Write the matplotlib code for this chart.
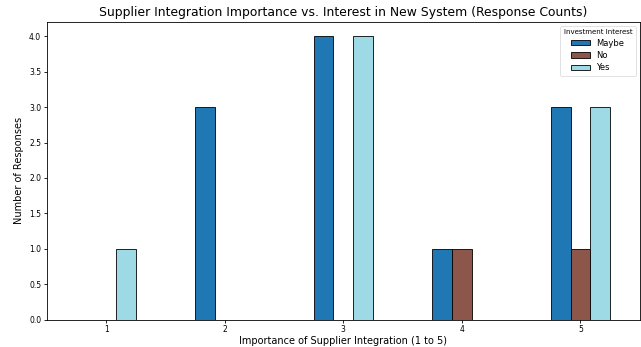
import numpy as np
import matplotlib.pyplot as plt

# response counts per importance score, split by investment interest
importance = ['1', '2', '3', '4', '5']
maybe = [0, 3, 4, 1, 3]
no = [0, 0, 0, 1, 1]
yes = [1, 0, 4, 0, 3]

series = [('Maybe', maybe, '#1f77b4'), ('No', no, '#8c564b'), ('Yes', yes, '#9edae5')]

fig = plt.figure(figsize=(6.41, 3.47), dpi=100)
ax = fig.add_axes([0.073, 0.078, 0.925, 0.859])

x = np.arange(len(importance))
width = 0.5 / len(series)
for i, (name, vals, color) in enumerate(series):
    ax.bar(x + (i - 1) * width, vals, width, color=color, edgecolor='black',
           linewidth=0.6, label=name)

ax.set_xlim(-0.5, len(importance) - 0.5)
ax.set_ylim(0, 4.2)
ax.set_xticks(x)
ax.set_xticklabels(importance, rotation=0)
ax.set_yticks(np.arange(0, 4.01, 0.5))
ax.tick_params(labelsize=5.5, length=2.5, width=0.6, pad=1.5)
for s in ax.spines.values():
    s.set_linewidth(0.6)

ax.set_title('Supplier Integration Importance vs. Interest in New System (Response Counts)',
             fontsize=8.9, pad=4)
ax.set_xlabel('Importance of Supplier Integration (1 to 5)', fontsize=7, labelpad=1)
ax.set_ylabel('Number of Responses', fontsize=7, labelpad=4)

leg = ax.legend(title='Investment Interest', fontsize=6, title_fontsize=5,
                loc='upper right', handlelength=2.2, handleheight=0.6,
                borderpad=0.4, labelspacing=0.4)
leg.get_frame().set_linewidth(0.5)

fig.savefig('out.png', dpi=100)
